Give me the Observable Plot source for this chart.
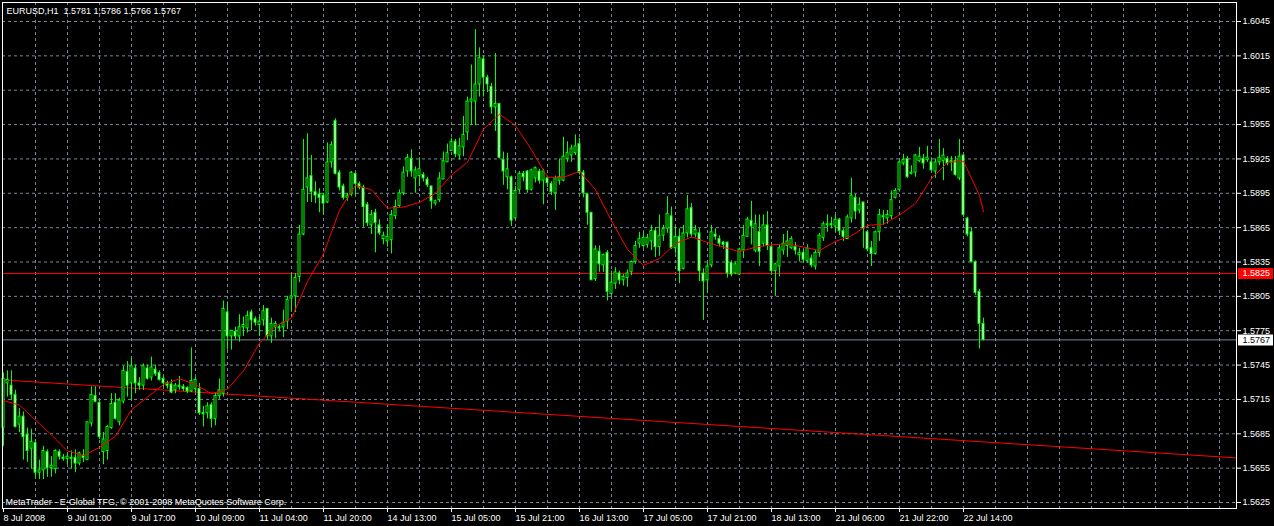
<!DOCTYPE html>
<html><head><meta charset="utf-8">
<script src="https://cdn.jsdelivr.net/npm/d3@7"></script>
<script src="https://cdn.jsdelivr.net/npm/@observablehq/plot@0.6"></script>
<style>html,body{margin:0;padding:0;background:#000;overflow:hidden}</style>
</head><body><div id="chart"></div>
<script>
const symbolTitle = "EURUSD,H1  1.5781 1.5786 1.5766 1.5767";
const copyrightText = "MetaTrader - E-Global TFG, © 2001-2008 MetaQuotes Software Corp.";

const barOpen = [
1.5690,1.5729,1.5727,1.5719,1.5693,1.5700,1.5684,1.5672,1.5677,1.5651,
1.5653,1.5669,1.5655,1.5654,1.5669,1.5664,1.5663,1.5664,1.5664,1.5659,
1.5666,1.5662,1.5694,1.5718,1.5712,1.5669,1.5670,1.5690,1.5712,1.5695,
1.5713,1.5739,1.5729,1.5742,1.5729,1.5727,1.5742,1.5734,1.5741,1.5738,
1.5733,1.5729,1.5728,1.5723,1.5727,1.5726,1.5725,1.5722,1.5724,1.5724,
1.5703,1.5703,1.5710,1.5698,1.5718,1.5720,1.5791,1.5770,1.5774,1.5770,
1.5778,1.5777,1.5791,1.5785,1.5780,1.5784,1.5794,1.5770,1.5778,1.5778,
1.5778,1.5783,1.5803,1.5805,1.5822,1.5859,1.5900,1.5910,1.5896,1.5894,
1.5893,1.5887,1.5922,1.5958,1.5913,1.5901,1.5891,1.5894,1.5912,1.5903,
1.5900,1.5885,1.5867,1.5878,1.5867,1.5855,1.5853,1.5854,1.5875,1.5884,
1.5895,1.5914,1.5925,1.5908,1.5910,1.5911,1.5907,1.5901,1.5886,1.5889,
1.5907,1.5922,1.5932,1.5940,1.5928,1.5935,1.5948,1.5975,1.5975,1.5990,
1.6012,1.5996,1.5988,1.5970,1.5973,1.5924,1.5909,1.5909,1.5873,1.5898,
1.5912,1.5914,1.5898,1.5908,1.5914,1.5906,1.5908,1.5903,1.5895,1.5906,
1.5906,1.5925,1.5928,1.5930,1.5938,1.5913,1.5894,1.5878,1.5820,1.5844,
1.5832,1.5843,1.5807,1.5816,1.5825,1.5819,1.5821,1.5826,1.5835,1.5851,
1.5849,1.5850,1.5853,1.5862,1.5848,1.5858,1.5864,1.5875,1.5847,1.5857,
1.5829,1.5860,1.5882,1.5859,1.5860,1.5825,1.5819,1.5832,1.5859,1.5855,
1.5852,1.5852,1.5834,1.5825,1.5824,1.5845,1.5857,1.5871,1.5845,1.5861,
1.5851,1.5867,1.5848,1.5827,1.5831,1.5845,1.5849,1.5847,1.5848,1.5841,
1.5843,1.5836,1.5838,1.5831,1.5843,1.5856,1.5867,1.5868,1.5866,1.5872,
1.5862,1.5855,1.5873,1.5891,1.5880,1.5887,1.5861,1.5847,1.5842,1.5861,
1.5875,1.5873,1.5875,1.5891,1.5898,1.5921,1.5925,1.5912,1.5913,1.5923,
1.5925,1.5924,1.5922,1.5914,1.5922,1.5923,1.5925,1.5923,1.5923,1.5908,
1.5928,1.5873,1.5861,1.5835,1.5809,1.5781];

const barHigh = [
1.5738,1.5740,1.5740,1.5723,1.5707,1.5704,1.5690,1.5689,1.5680,1.5662,
1.5674,1.5671,1.5665,1.5671,1.5671,1.5667,1.5668,1.5670,1.5671,1.5669,
1.5671,1.5695,1.5726,1.5726,1.5714,1.5686,1.5692,1.5720,1.5720,1.5716,
1.5744,1.5748,1.5752,1.5745,1.5734,1.5746,1.5745,1.5752,1.5745,1.5740,
1.5735,1.5731,1.5732,1.5729,1.5735,1.5728,1.5726,1.5760,1.5734,1.5729,
1.5709,1.5712,1.5712,1.5720,1.5733,1.5801,1.5800,1.5772,1.5778,1.5789,
1.5787,1.5792,1.5793,1.5787,1.5787,1.5797,1.5794,1.5786,1.5783,1.5780,
1.5793,1.5805,1.5825,1.5825,1.5867,1.5942,1.5947,1.5928,1.5905,1.5899,
1.5895,1.5939,1.5940,1.5960,1.5915,1.5903,1.5895,1.5914,1.5913,1.5905,
1.5902,1.5887,1.5880,1.5881,1.5872,1.5861,1.5867,1.5880,1.5889,1.5898,
1.5918,1.5929,1.5933,1.5918,1.5926,1.5913,1.5909,1.5901,1.5889,1.5913,
1.5931,1.5938,1.5943,1.5942,1.5943,1.5962,1.5979,1.6007,1.6038,1.6022,
1.6015,1.5998,1.5991,1.6017,1.5973,1.5931,1.5930,1.5910,1.5901,1.5914,
1.5914,1.5915,1.5916,1.5918,1.5916,1.5916,1.5910,1.5905,1.5910,1.5925,
1.5944,1.5940,1.5937,1.5946,1.5943,1.5915,1.5895,1.5878,1.5849,1.5849,
1.5842,1.5845,1.5827,1.5830,1.5827,1.5824,1.5828,1.5836,1.5853,1.5861,
1.5860,1.5859,1.5867,1.5865,1.5876,1.5867,1.5892,1.5883,1.5866,1.5864,
1.5867,1.5893,1.5886,1.5867,1.5864,1.5829,1.5834,1.5867,1.5864,1.5858,
1.5853,1.5852,1.5836,1.5835,1.5847,1.5867,1.5874,1.5888,1.5876,1.5876,
1.5876,1.5879,1.5850,1.5834,1.5850,1.5859,1.5862,1.5857,1.5852,1.5847,
1.5846,1.5850,1.5841,1.5845,1.5860,1.5870,1.5876,1.5874,1.5876,1.5873,
1.5864,1.5876,1.5908,1.5894,1.5891,1.5887,1.5862,1.5853,1.5862,1.5881,
1.5880,1.5880,1.5897,1.5899,1.5923,1.5929,1.5927,1.5919,1.5929,1.5935,
1.5929,1.5936,1.5926,1.5925,1.5942,1.5934,1.5927,1.5927,1.5927,1.5942,
1.5929,1.5874,1.5865,1.5836,1.5811,1.5786];

const barLow = [
1.5674,1.5717,1.5714,1.5690,1.5686,1.5662,1.5660,1.5654,1.5646,1.5645,
1.5645,1.5647,1.5647,1.5650,1.5662,1.5661,1.5658,1.5654,1.5651,1.5657,
1.5660,1.5662,1.5691,1.5712,1.5680,1.5658,1.5662,1.5689,1.5697,1.5692,
1.5711,1.5717,1.5714,1.5720,1.5723,1.5723,1.5732,1.5731,1.5735,1.5731,
1.5726,1.5724,1.5720,1.5720,1.5723,1.5722,1.5720,1.5721,1.5721,1.5701,
1.5691,1.5698,1.5690,1.5692,1.5715,1.5717,1.5758,1.5758,1.5767,1.5765,
1.5770,1.5773,1.5775,1.5779,1.5770,1.5779,1.5767,1.5764,1.5768,1.5774,
1.5769,1.5776,1.5791,1.5791,1.5817,1.5858,1.5887,1.5887,1.5886,1.5878,
1.5876,1.5886,1.5917,1.5911,1.5897,1.5889,1.5888,1.5892,1.5893,1.5898,
1.5865,1.5866,1.5859,1.5843,1.5858,1.5850,1.5848,1.5842,1.5872,1.5882,
1.5893,1.5909,1.5909,1.5895,1.5901,1.5905,1.5900,1.5881,1.5884,1.5887,
1.5907,1.5922,1.5932,1.5926,1.5924,1.5927,1.5941,1.5954,1.5954,1.5979,
1.5979,1.5983,1.5964,1.5949,1.5925,1.5902,1.5898,1.5866,1.5872,1.5895,
1.5905,1.5895,1.5897,1.5904,1.5903,1.5885,1.5900,1.5893,1.5880,1.5902,
1.5905,1.5922,1.5922,1.5928,1.5911,1.5891,1.5867,1.5819,1.5818,1.5826,
1.5826,1.5801,1.5805,1.5811,1.5815,1.5814,1.5813,1.5823,1.5833,1.5847,
1.5847,1.5847,1.5845,1.5839,1.5840,1.5853,1.5860,1.5846,1.5842,1.5816,
1.5828,1.5856,1.5856,1.5856,1.5818,1.5784,1.5808,1.5830,1.5854,1.5848,
1.5846,1.5821,1.5822,1.5824,1.5824,1.5838,1.5857,1.5850,1.5843,1.5831,
1.5848,1.5845,1.5824,1.5805,1.5822,1.5841,1.5839,1.5846,1.5841,1.5835,
1.5834,1.5834,1.5830,1.5828,1.5839,1.5853,1.5861,1.5864,1.5861,1.5858,
1.5853,1.5855,1.5869,1.5872,1.5877,1.5847,1.5844,1.5831,1.5841,1.5853,
1.5867,1.5868,1.5872,1.5890,1.5896,1.5919,1.5908,1.5911,1.5909,1.5922,
1.5916,1.5922,1.5915,1.5908,1.5919,1.5906,1.5919,1.5914,1.5910,1.5906,
1.5874,1.5857,1.5834,1.5806,1.5759,1.5766];

const barClose = [
1.5733,1.5732,1.5719,1.5691,1.5700,1.5682,1.5670,1.5678,1.5651,1.5653,
1.5670,1.5655,1.5657,1.5670,1.5665,1.5663,1.5665,1.5663,1.5659,1.5668,
1.5664,1.5695,1.5719,1.5713,1.5682,1.5680,1.5691,1.5711,1.5698,1.5714,
1.5740,1.5727,1.5744,1.5729,1.5727,1.5744,1.5733,1.5743,1.5737,1.5732,
1.5729,1.5727,1.5721,1.5727,1.5726,1.5724,1.5722,1.5731,1.5732,1.5703,
1.5702,1.5709,1.5698,1.5718,1.5723,1.5794,1.5770,1.5775,1.5770,1.5778,
1.5780,1.5788,1.5784,1.5782,1.5783,1.5792,1.5770,1.5781,1.5781,1.5777,
1.5782,1.5802,1.5805,1.5821,1.5859,1.5898,1.5908,1.5896,1.5893,1.5891,
1.5886,1.5922,1.5937,1.5912,1.5900,1.5891,1.5893,1.5913,1.5903,1.5900,
1.5883,1.5869,1.5876,1.5869,1.5860,1.5858,1.5857,1.5876,1.5883,1.5895,
1.5913,1.5926,1.5914,1.5915,1.5916,1.5908,1.5902,1.5888,1.5888,1.5908,
1.5923,1.5930,1.5940,1.5929,1.5936,1.5946,1.5975,1.5977,1.5990,1.6013,
1.5996,1.5990,1.5970,1.5973,1.5926,1.5914,1.5916,1.5871,1.5897,1.5912,
1.5909,1.5898,1.5915,1.5917,1.5906,1.5914,1.5904,1.5896,1.5908,1.5909,
1.5927,1.5930,1.5934,1.5936,1.5913,1.5895,1.5878,1.5819,1.5846,1.5833,
1.5841,1.5809,1.5817,1.5826,1.5819,1.5822,1.5825,1.5835,1.5849,1.5855,
1.5856,1.5856,1.5862,1.5848,1.5858,1.5864,1.5877,1.5847,1.5857,1.5827,
1.5860,1.5881,1.5859,1.5863,1.5827,1.5818,1.5831,1.5861,1.5857,1.5851,
1.5850,1.5825,1.5824,1.5833,1.5846,1.5858,1.5872,1.5866,1.5868,1.5844,
1.5867,1.5849,1.5827,1.5833,1.5847,1.5851,1.5853,1.5855,1.5845,1.5843,
1.5837,1.5847,1.5832,1.5843,1.5858,1.5868,1.5868,1.5867,1.5872,1.5862,
1.5857,1.5874,1.5893,1.5879,1.5885,1.5864,1.5846,1.5842,1.5861,1.5876,
1.5874,1.5876,1.5889,1.5897,1.5922,1.5924,1.5909,1.5913,1.5928,1.5927,
1.5921,1.5926,1.5915,1.5922,1.5926,1.5928,1.5921,1.5922,1.5911,1.5927,
1.5876,1.5859,1.5835,1.5808,1.5781,1.5767];

// moving average, every 4th bar
const maIndex = [0,4,8,12,16,20,24,28,32,36,40,44,48,52,56,60,64,68,72,76,80,84,88,92,96,100,104,108,112,116,120,124,128,132,136,140,144,148,152,156,160,164,168,172,176,180,184,188,192,196,200,204,208,212,216,220,224,228,232,236,240,244,245];
const maValue = [1.5714,1.5710,1.5697,1.5684,1.5670,1.5666,1.5673,1.5683,1.5706,1.5717,1.5728,1.5733,1.5728,1.5720,1.5724,1.5740,1.5764,1.5779,1.5786,1.5818,1.5842,1.5880,1.5902,1.5898,1.5882,1.5883,1.5887,1.5895,1.5911,1.5922,1.5951,1.5964,1.5954,1.5933,1.5909,1.5909,1.5914,1.5898,1.5871,1.5846,1.5832,1.5838,1.5851,1.5857,1.5852,1.5848,1.5844,1.5848,1.5850,1.5851,1.5848,1.5845,1.5853,1.5858,1.5867,1.5868,1.5876,1.5886,1.5908,1.5922,1.5923,1.5893,1.5879];

const trendIndex = [0, 308];
const trendValue = [1.5732, 1.5664];

const alertLevel = [1.5825];
const bidLevel = [1.5767];

const priceTicks = [1.5625,1.5655,1.5685,1.5715,1.5745,1.5775,1.5805,1.5835,1.5865,1.5895,1.5925,1.5955,1.5985,1.6015,1.6045];
const timeIndex = [0,16,32,48,64,80,96,112,128,144,160,176,192,208,224,240];
const timeLabels = ["8 Jul 2008","9 Jul 01:00","9 Jul 17:00","10 Jul 09:00","11 Jul 04:00","11 Jul 20:00","14 Jul 13:00","15 Jul 05:00","15 Jul 21:00","16 Jul 13:00","17 Jul 05:00","17 Jul 21:00","18 Jul 13:00","21 Jul 06:00","21 Jul 22:00","22 Jul 14:00"];

const candles = barOpen.map((o, i) => ({i, o, h: barHigh[i], l: barLow[i], c: barClose[i]}));
const ma = maIndex.map((i, k) => ({i, v: maValue[k]}));
const trend = trendIndex.map((i, k) => ({i, v: trendValue[k]}));

const green = "#00ff00", gridColor = "#778899", red = "#ff0000";
const fmt = d3.format(".4f");
const W = 1274, H = 526, mL = 2, mT = 2, mR = 38, mB = 18;
// label box in the right margin: starts 2px right of the frame, ends 1px before the edge
const boxInsetLeft = (W - mR - mL) + 2, boxInsetRight = -(mR - 1);

const chart = Plot.plot({
  width: W, height: H,
  marginLeft: mL, marginTop: mT, marginRight: mR, marginBottom: mB,
  style: {background: "#000", color: "#fff", fontFamily: "'Liberation Sans', Arial, sans-serif", fontSize: "9px", overflow: "visible"},
  x: {domain: [-0.25, 308.25], range: [mL, W - mR]},
  y: {domain: [1.5625, 1.6045], range: [502, 21]},
  marks: [
    Plot.gridY(priceTicks, {stroke: gridColor, strokeOpacity: 1, strokeDasharray: "3,3"}),
    Plot.gridX(d3.range(8, 305, 8), {stroke: gridColor, strokeOpacity: 1, strokeDasharray: "3,3"}),
    Plot.ruleY(alertLevel, {stroke: red}),
    Plot.ruleY(bidLevel, {stroke: gridColor}),
    Plot.line(trend, {x: "i", y: "v", stroke: red, strokeWidth: 1}),
    Plot.ruleX(candles, {x: "i", y1: "l", y2: "h", stroke: green}),
    Plot.rect(candles, {filter: d => d.c >= d.o, x1: d => d.i - 0.25, x2: d => d.i + 0.25, y1: "o", y2: "c", fill: "#000", stroke: green}),
    Plot.rect(candles, {filter: d => d.c < d.o, x1: d => d.i - 0.25, x2: d => d.i + 0.25, y1: "o", y2: "c", fill: "#fff", stroke: green}),
    Plot.line(ma, {x: "i", y: "v", stroke: red, strokeWidth: 1}),
    Plot.frame({stroke: "#fff"}),
    Plot.axisY({ticks: priceTicks, anchor: "right", tickSize: 4, tickPadding: 2, tickFormat: fmt, label: null, fill: "#fff", stroke: "#fff"}),
    Plot.axisX({ticks: timeIndex, anchor: "bottom", tickSize: 4, tickPadding: 2, tickFormat: d => timeLabels[timeIndex.indexOf(d)], textAnchor: "start", label: null, fill: "#fff", stroke: "#fff"}),
    Plot.text([symbolTitle], {frameAnchor: "top-left", dx: 4, dy: 5, lineAnchor: "top", textAnchor: "start", fill: "#fff"}),
    Plot.text([copyrightText], {frameAnchor: "bottom-left", dx: 3, dy: -4, lineAnchor: "bottom", textAnchor: "start", fill: "#fff"}),
    // boxes behind the level labels
    Plot.ruleY(alertLevel, {stroke: red, strokeWidth: 11, insetLeft: boxInsetLeft, insetRight: boxInsetRight}),
    Plot.ruleY(bidLevel, {stroke: "#fff", strokeWidth: 11, insetLeft: boxInsetLeft, insetRight: boxInsetRight}),
    Plot.text(alertLevel, {y: d => d, text: d => fmt(d), frameAnchor: "right", dx: 6, textAnchor: "start", fill: "#fff"}),
    Plot.text(bidLevel, {y: d => d, text: d => fmt(d), frameAnchor: "right", dx: 6, textAnchor: "start", fill: "#000"})
  ]
});
document.getElementById("chart").appendChild(chart);
</script>
</body></html>
